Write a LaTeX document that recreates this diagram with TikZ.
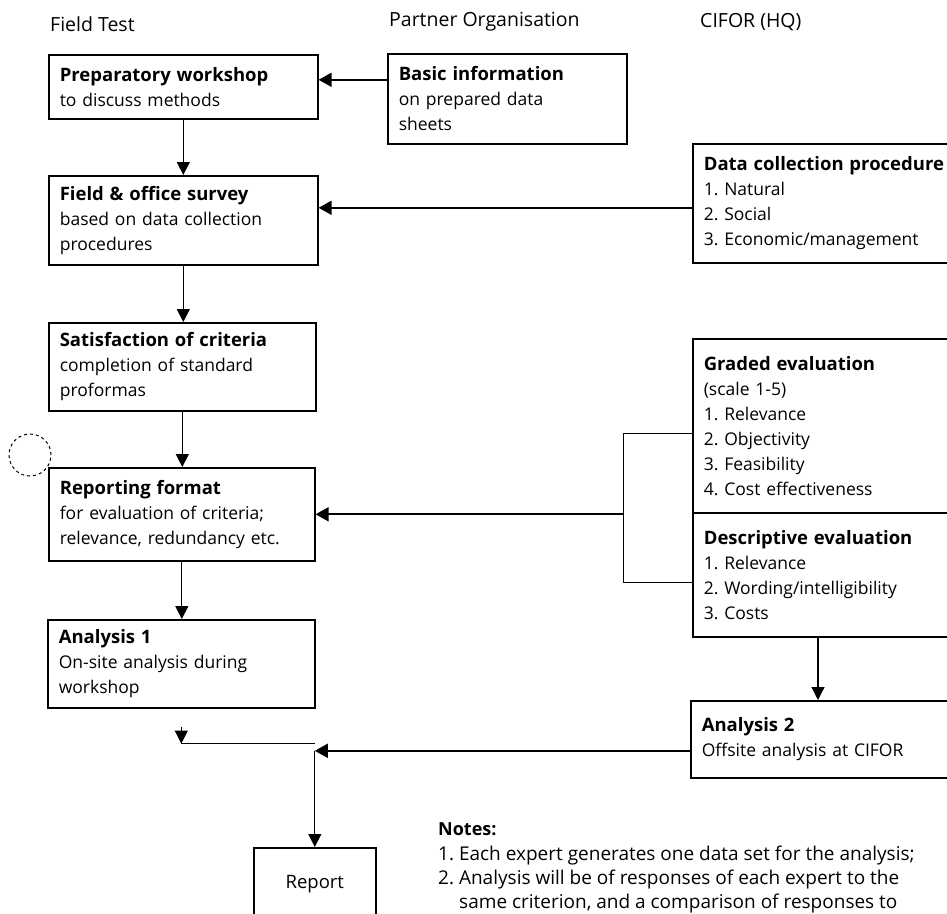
\documentclass[tikz,border=0pt]{standalone}
\usepackage{fontspec}
\setmainfont{Open Sans}
\usetikzlibrary{arrows.meta,calc}
\newcommand\boxfont{\fontsize{17.5}{25}\selectfont\frenchspacing\hyphenpenalty=10000 }
\newcommand\ttl[1]{{\fontsize{18.5}{25}\selectfont\bfseries #1}}
\begin{document}
\begin{tikzpicture}[x=1pt,y=-1pt,
  box/.style={draw, line width=1.6pt, rectangle, anchor=north west, inner xsep=11pt, inner ysep=0pt, align=left, font=\boxfont},
  lbl/.style={anchor=west, inner sep=0pt, font=\fontsize{19.5}{24}\selectfont},
  note/.style={anchor=west, inner sep=0pt, font=\fontsize{19}{24}\selectfont\frenchspacing},
  arr/.style={-{Triangle[length=13pt,width=13pt]}, line width=1.1pt},
  harr/.style={-{Triangle[length=13pt,width=14pt]}, line width=1.8pt},
  con/.style={line width=1.1pt}]
\useasboundingbox[fill=white] (0,0) rectangle (947,913);

% headers
\node[lbl] (h1) at (50,24) {Field Test};
\node[lbl] (h2) at (389,22) {Partner Organisation};
\node[lbl] (h3) at (700,22) {CIFOR (HQ)};

% boxes
\node[box, text width=247pt, minimum height=64pt] (prep) at (48,54) {\ttl{Preparatory workshop}\\to discuss methods};
\node[box, text width=217pt, minimum height=90pt] (basic) at (387,53) {\ttl{Basic information}\\on prepared data\\sheets};
\node[box, text width=247pt, minimum height=89pt] (field) at (48,175) {\ttl{Field \& office survey}\\based on data collection\\procedures};
\node[box, text width=270pt, minimum height=119pt] (dcp) at (692,143) {\ttl{Data collection procedure}\\1. Natural\\2. Social\\3. Economic/management};
\node[box, text width=245pt, minimum height=88pt] (sat) at (48,322) {\ttl{Satisfaction of criteria}\\completion of standard\\proformas};
\node[box, text width=244pt, minimum height=93pt] (rep) at (48,467) {\ttl{Reporting format}\\for evaluation of criteria;\\relevance, redundancy etc.};
\node[box, text width=270pt, minimum height=174pt] (graded) at (692,338) {\ttl{Graded evaluation}\\(scale 1-5)\\1. Relevance\\2. Objectivity\\3. Feasibility\\4. Cost effectiveness};
\node[box, text width=270pt, minimum height=124pt] (desc) at (692,512) {\ttl{Descriptive evaluation}\\1. Relevance\\2. Wording/intelligibility\\3. Costs};
\node[box, text width=245pt, minimum height=88pt] (a1) at (47,619) {\ttl{Analysis 1}\\On-site analysis during\\workshop};
\node[box, text width=270pt, minimum height=77pt] (a2) at (690,700) {\ttl{Analysis 2}\\Offsite analysis at CIFOR};
\node[box, text width=100pt, minimum height=72pt, align=center, font=\fontsize{18.5}{25}\selectfont] (report) at (253,847) {Report};

% connectors
\coordinate (bw) at ([yshift=19pt]basic.west);
\draw[harr] (bw) -- (bw -| prep.east);
\draw[arr] (prep.south) -- (prep.south |- field.north);
\coordinate (dw) at ([yshift=-4.5pt]dcp.west);
\draw[harr] (dw) -- (dw -| field.east);
\draw[arr] (field.south) -- (field.south |- sat.north);
\draw[arr] (sat.south) -- (sat.south |- rep.north);
\draw[arr] (rep.south) -- (rep.south |- a1.north);

\coordinate (gs) at ([yshift=-8pt]graded.west);
\coordinate (ds) at ([yshift=-8pt]desc.west);
\coordinate (bk) at ($(rep.east)+(308,0)$);
\draw[con] (gs) -| (bk) |- (ds);
\draw[harr] (bk) -- (rep.east);

\coordinate (dsx) at ($(desc.south west)+(126,0)$);
\draw[arr] (dsx) -- (dsx |- a2.north);

\coordinate (aw) at ([yshift=-11.5pt]a2.west);
\coordinate (j2) at (aw -| report.north);
\draw[harr] (aw) -- (j2);
\draw[arr] (j2) -- (report.north);

\coordinate (j1) at ([yshift=-35pt]a1.south);
\draw[arr] ([yshift=-18pt]a1.south) -- (j1);
\draw[con] (j1) -- (j1 -| report.north);

% stamp
\draw[dashed, line width=1pt] (30,455) circle[radius=21pt];

% notes
\node[note, font=\fontsize{18}{24}\selectfont\bfseries] (notes) at (438,829) {Notes:};
\node[note] (n1) at (438,855) {1. Each expert generates one data set for the analysis;};
\node[note] (n2) at (438,879) {2. Analysis will be of responses of each expert to the};
\node[note] (n3) at (459,903) {same criterion, and a comparison of responses to};
\end{tikzpicture}
\end{document}
